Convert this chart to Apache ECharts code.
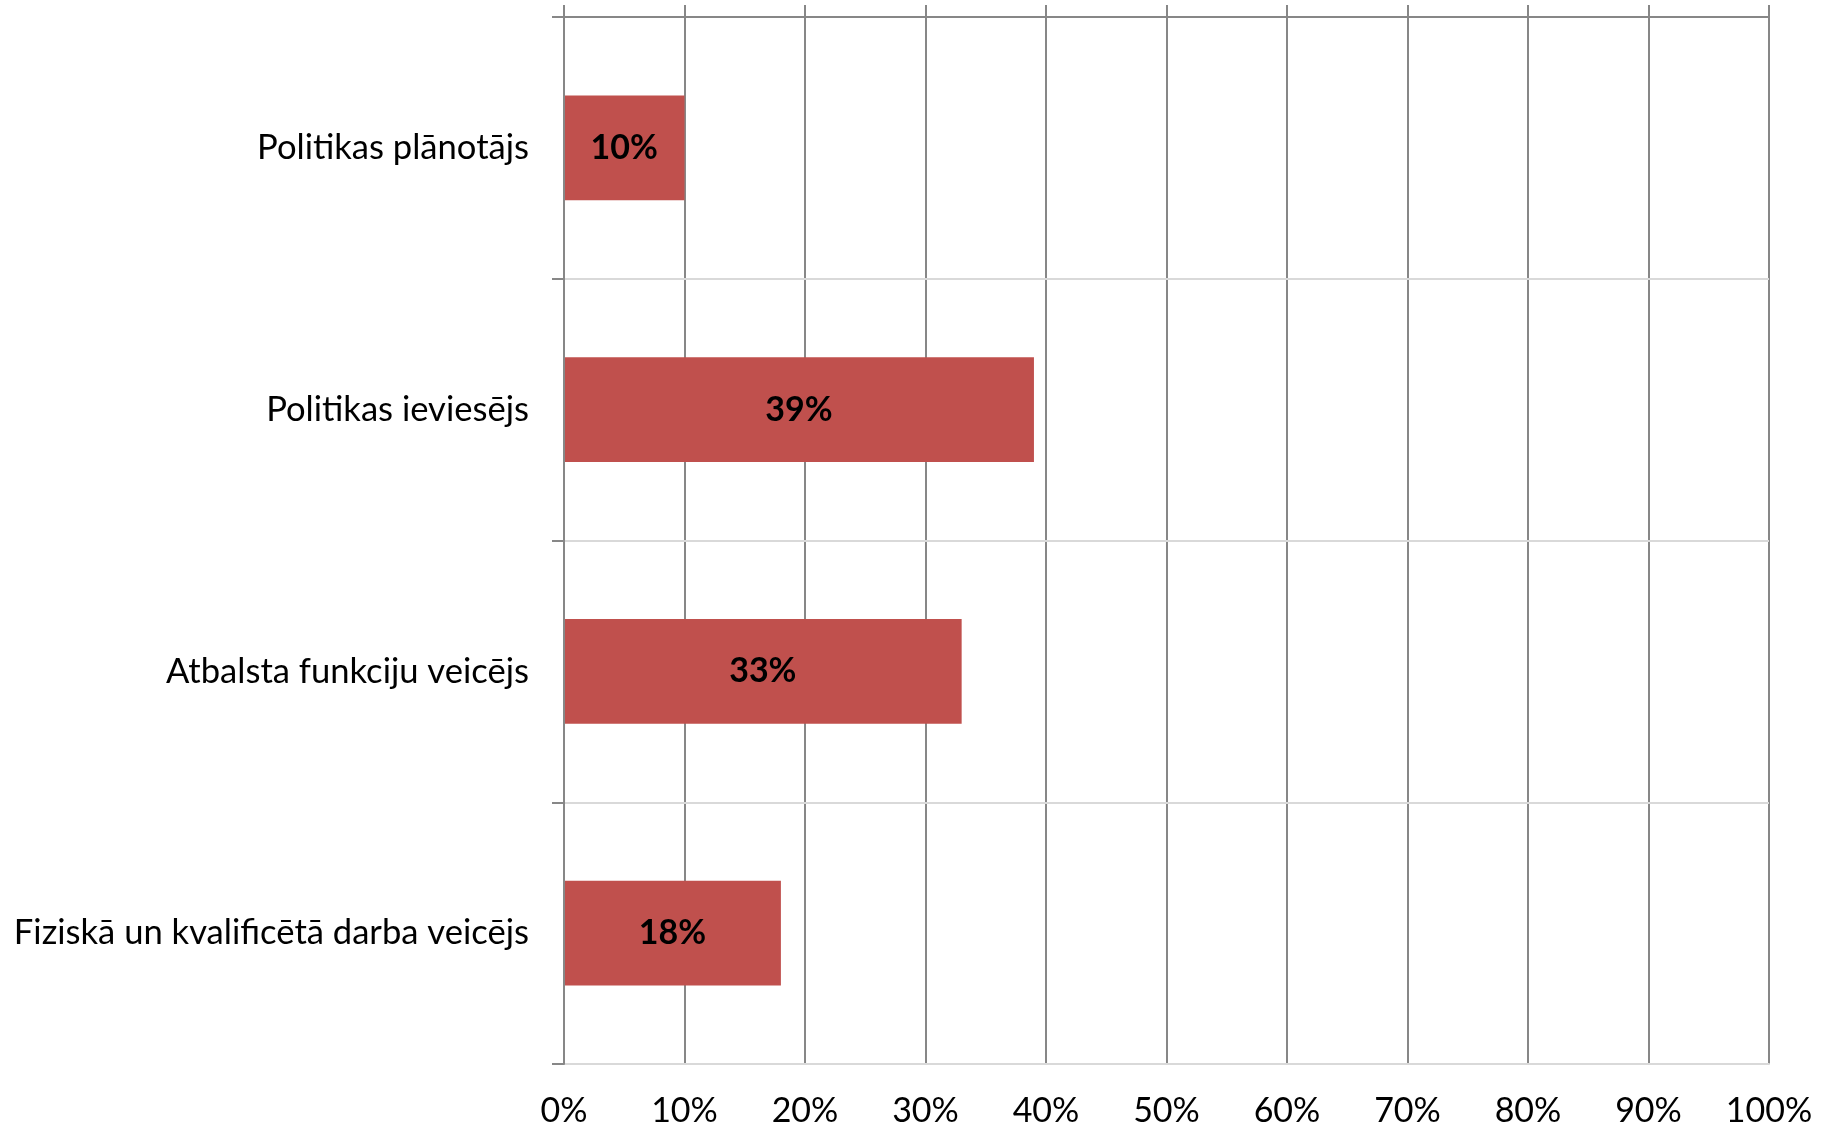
<!DOCTYPE html>
<html>
<head>
<meta charset="utf-8">
<style>
html,body{margin:0;padding:0;background:#fff;}
#chart{width:1830px;height:1129px;}
</style>
<script src="https://cdn.jsdelivr.net/npm/echarts@6/dist/echarts.min.js"></script>
</head>
<body>
<div id="chart"></div>
<script>
const categories = ['Politikas plānotājs', 'Politikas ieviesējs', 'Atbalsta funkciju veicējs', 'Fiziskā un kvalificētā darba veicējs'];
const values = [10, 39, 33, 18];
const xTicks = { min: 0, max: 100, interval: 10 };

const chart = echarts.init(document.getElementById('chart'), null, { renderer: 'canvas' });
const FONT = 'Lato';
chart.setOption({
  backgroundColor: '#ffffff',
  animation: false,
  grid: { left: 564, right: 61, top: 17, bottom: 65, containLabel: false },
  xAxis: [
    {
      type: 'value', position: 'bottom',
      min: xTicks.min, max: xTicks.max, interval: xTicks.interval,
      axisLine: { show: true, lineStyle: { color: '#d9d9d9', width: 2 } },
      axisTick: { show: false },
      splitLine: { show: true, lineStyle: { color: '#878787', width: 2 } },
      axisLabel: { formatter: '{value}%', fontSize: 34, fontFamily: FONT, color: '#000', margin: 30 }
    },
    {
      type: 'value', position: 'top', z: 5,
      min: xTicks.min, max: xTicks.max, interval: xTicks.interval,
      axisLine: { show: true, lineStyle: { color: '#878787', width: 2 } },
      axisTick: { show: true, inside: false, length: 12, lineStyle: { color: '#878787', width: 2 } },
      splitLine: { show: false },
      axisLabel: { show: false }
    }
  ],
  yAxis: {
    type: 'category', inverse: true, data: categories, z: 4,
    axisLine: { show: true, lineStyle: { color: '#878787', width: 2 } },
    axisTick: { show: true, length: 12, inside: false, lineStyle: { color: '#878787', width: 2 } },
    splitLine: { show: true, lineStyle: { color: '#d9d9d9', width: 2 } },
    axisLabel: { fontSize: 34.6, fontFamily: FONT, color: '#000', margin: 35, padding: [4, 0, 0, 0] }
  },
  series: [{
    type: 'bar', xAxisIndex: 0, data: values,
    barCategoryGap: '60%',
    itemStyle: { color: '#C0504D' },
    label: {
      show: true, position: 'inside', formatter: '{c}%', padding: [4, 0, 0, 0],
      fontSize: 34, fontWeight: 'bold', fontFamily: FONT, color: '#000'
    }
  }]
});
</script>
</body>
</html>
